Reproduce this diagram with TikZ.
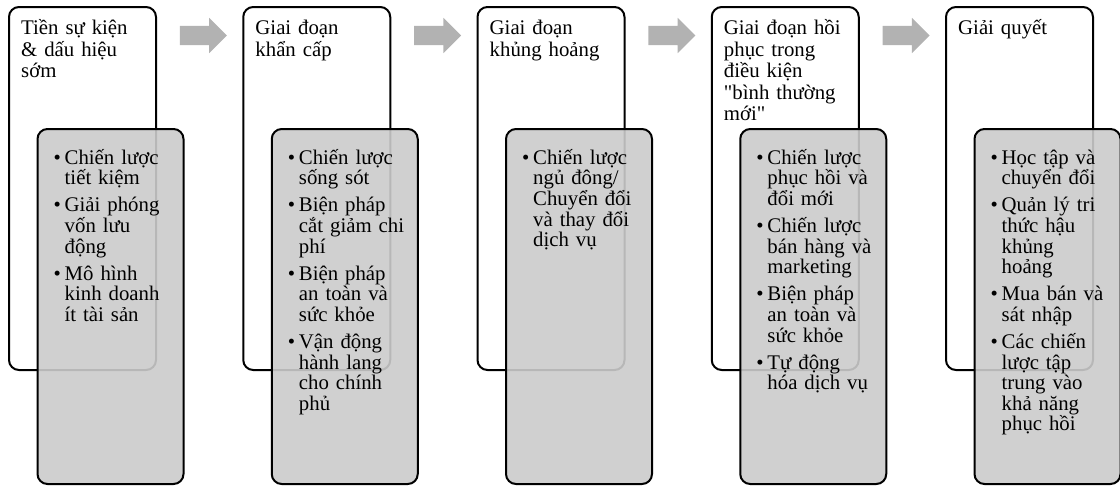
\documentclass[tikz,border=0pt]{standalone}
\usepackage{fontspec}
\setmainfont{Liberation Serif}
\newfontfamily\quotefont{Liberation Serif}
\usepackage{xcolor}
\usetikzlibrary{shapes.arrows}
\definecolor{ink}{RGB}{0,0,0}
\definecolor{stratgray}{RGB}{203,203,203}
\definecolor{arrowgray}{RGB}{178,178,178}
\newcommand{\stagefont}{\fontsize{20.8}{21.5}\selectfont\lineskiplimit=-50pt\lineskip=0pt}
\newcommand{\listfont}{\fontsize{20.8}{20.6}\selectfont\lineskiplimit=-50pt\lineskip=0pt}
\newcommand{\topstrut}{\rule{0pt}{21pt}}
\newcommand{\itm}[1]{\hangindent=11pt\hangafter=1\noindent\makebox[11pt][l]{\textbullet}#1\par}
\newcommand{\itmgap}{\vspace{6.5pt}}
\newcommand{\dq}{{\quotefont"}}
\tikzset{
  stagebox/.style={draw=ink, fill=white, rounded corners=10pt, anchor=north west,
    minimum width=147pt, minimum height=363pt, inner sep=0pt, line width=2pt},
  stratbox/.style={draw=ink, fill=stratgray, fill opacity=0.9, draw opacity=1,
    rounded corners=10pt, anchor=north west, minimum width=146pt, minimum height=355pt,
    inner sep=0pt, line width=2pt},
  headtext/.style={anchor=north west, inner sep=0pt, text width=132pt, align=left,
    font=\stagefont, text=ink},
  listtext/.style={anchor=north west, inner sep=0pt, text width=127pt, align=left,
    font=\listfont, text=ink},
  nextarrow/.style={single arrow, fill=arrowgray, draw=none, inner sep=0pt,
    text height=19pt, text depth=0pt, minimum height=47pt,
    single arrow head extend=8pt, single arrow head indent=0pt},
}
\begin{document}
\begin{tikzpicture}[x=1pt,y=1pt]
  \useasboundingbox (0,0) rectangle (1120,-485);
  % stage 1
  \node[stagebox] (stage1) at (8,-6) {};
  \node[headtext] (head1) at (21,-13.5) {\topstrut Tiền sự kiện\\ \& dấu hiệu\\ sớm};
  \node[stratbox] (strat1) at (36.5,-128) {};
  \node[listtext] (list1) at (53.5,-143) {%
    \itm{\topstrut Chiến lược\newline tiết kiệm}\itmgap
    \itm{Giải phóng\newline vốn lưu\newline động}\itmgap
    \itm{Mô hình\newline kinh doanh\newline ít tài sản}};
  \node[nextarrow] (next1) at (198.5,-35.5) {};
  % stage 2
  \node[stagebox] (stage2) at (242.25,-6) {};
  \node[headtext] (head2) at (255.25,-13.5) {\topstrut Giai đoạn\\ khẩn cấp};
  \node[stratbox] (strat2) at (270.75,-128) {};
  \node[listtext] (list2) at (287.75,-143) {%
    \itm{\topstrut Chiến lược\newline sống sót}\itmgap
    \itm{Biện pháp\newline cắt giảm chi\newline phí}\itmgap
    \itm{Biện pháp\newline an toàn và\newline sức khỏe}\itmgap
    \itm{Vận động\newline hành lang\newline cho chính\newline phủ}};
  \node[nextarrow] (next2) at (432.75,-35.5) {};
  % stage 3
  \node[stagebox] (stage3) at (476.5,-6) {};
  \node[headtext] (head3) at (489.5,-13.5) {\topstrut Giai đoạn\\ khủng hoảng};
  \node[stratbox] (strat3) at (505,-128) {};
  \node[listtext] (list3) at (522,-143) {%
    \itm{\topstrut Chiến lược\newline ngủ đông/\newline Chuyển đổi\newline và thay đổi\newline dịch vụ}};
  \node[nextarrow] (next3) at (667,-35.5) {};
  % stage 4
  \node[stagebox] (stage4) at (710.75,-6) {};
  \node[headtext] (head4) at (723.75,-13.5) {\topstrut Giai đoạn hồi\\ phục trong\\ điều kiện\\
    \dq bình thường\\ mới\dq};
  \node[stratbox] (strat4) at (739.25,-128) {};
  \node[listtext] (list4) at (756.25,-143) {%
    \itm{\topstrut Chiến lược\newline phục hồi và\newline đổi mới}\itmgap
    \itm{Chiến lược\newline bán hàng và\newline marketing}\itmgap
    \itm{Biện pháp\newline an toàn và\newline sức khỏe}\itmgap
    \itm{Tự động\newline hóa dịch vụ}};
  \node[nextarrow] (next4) at (901.25,-35.5) {};
  % stage 5
  \node[stagebox] (stage5) at (945,-6) {};
  \node[headtext] (head5) at (958,-13.5) {\topstrut Giải quyết};
  \node[stratbox] (strat5) at (973.5,-128) {};
  \node[listtext] (list5) at (990.5,-143) {%
    \itm{\topstrut Học tập và\newline chuyển đổi}\itmgap
    \itm{Quản lý tri\newline thức hậu\newline khủng\newline hoảng}\itmgap
    \itm{Mua bán và\newline sát nhập}\itmgap
    \itm{Các chiến\newline lược tập\newline trung vào\newline khả năng\newline phục hồi}};
\end{tikzpicture}
\end{document}
